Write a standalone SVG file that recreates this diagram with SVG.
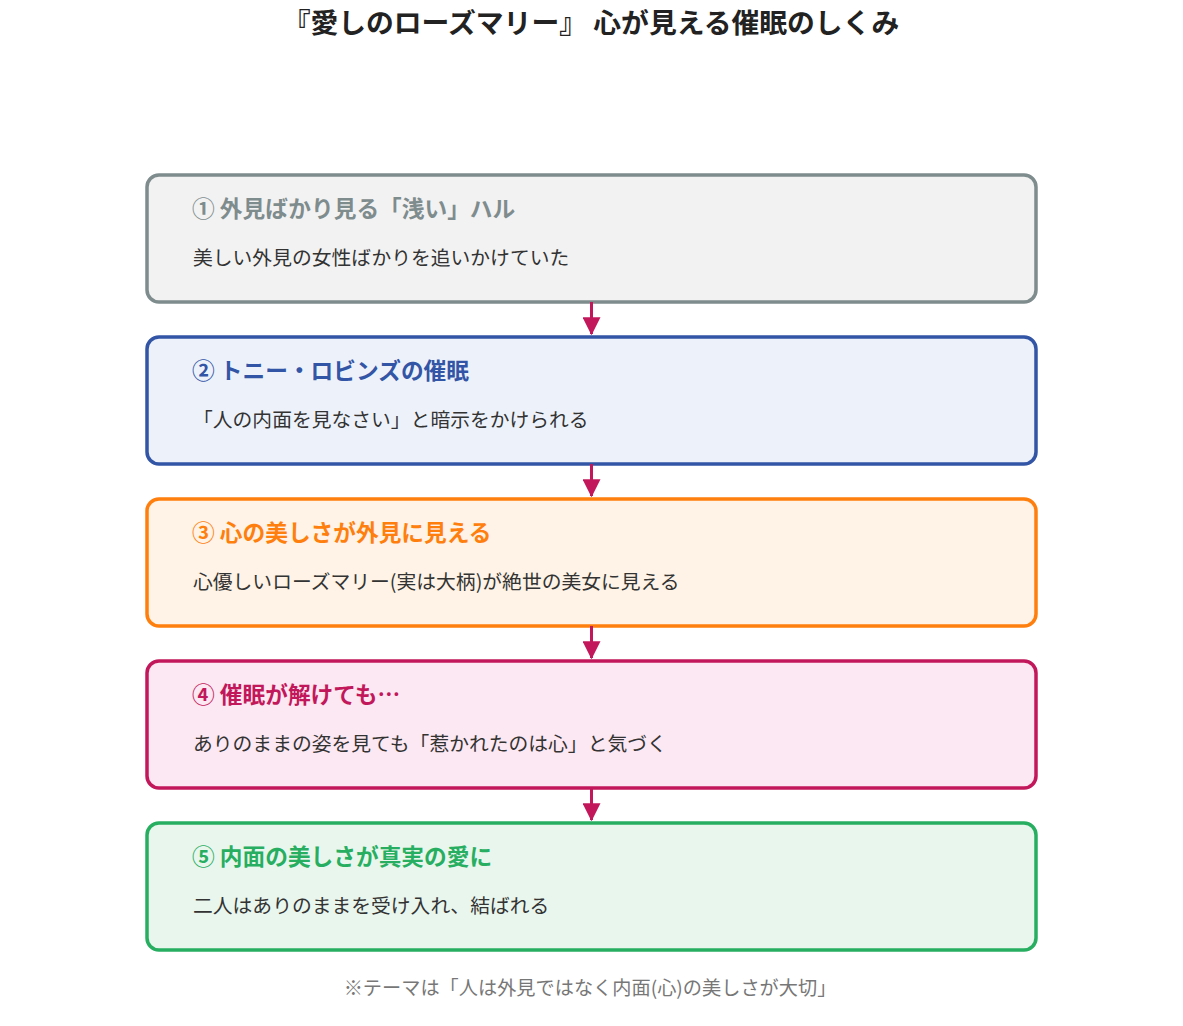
<svg xmlns="http://www.w3.org/2000/svg" width="1183" height="1026" viewBox="0 0 1183 1026">
<defs>
<marker id="ah" markerWidth="6" markerHeight="6" refX="5.6" refY="3" orient="auto" markerUnits="strokeWidth">
<path d="M0,0 L6,3 L0,6 Z" fill="#C2185B"/>
</marker>
<style>
text{font-family:"Noto Sans CJK JP","Noto Sans CJK SC",sans-serif}
.title{font-size:27.8px;font-weight:bold;fill:#222;text-anchor:middle}
.box{stroke-width:3.5}
.h{font-size:22.7px;font-weight:bold}
.b{font-size:19.8px;fill:#333}
.foot{font-size:19.2px;fill:#777;text-anchor:middle}
.conn{stroke:#C2185B;stroke-width:3;fill:none}
</style>
</defs>
<rect width="1183" height="1026" fill="#fff"/>
<text class="title" x="591" y="33">『愛しのローズマリー』 心が見える催眠のしくみ</text>
<g id="node1">
<rect class="box" x="147" y="175" width="889" height="127" rx="12" fill="#F2F2F2" stroke="#7F8C8D"/>
<text class="h" x="192" y="217" fill="#7F8C8D">① 外見ばかり見る「浅い」ハル</text>
<text class="b" x="193" y="265">美しい外見の女性ばかりを追いかけていた</text>
</g>
<g id="node2">
<rect class="box" x="147" y="337" width="889" height="127" rx="12" fill="#EDF2FA" stroke="#3355A6"/>
<text class="h" x="192" y="379" fill="#3355A6">② トニー・ロビンズの催眠</text>
<text class="b" x="193" y="427">「人の内面を見なさい」と暗示をかけられる</text>
</g>
<g id="node3">
<rect class="box" x="147" y="499" width="889" height="127" rx="12" fill="#FEF3E6" stroke="#FF7F0E"/>
<text class="h" x="192" y="541" fill="#FF7F0E">③ 心の美しさが外見に見える</text>
<text class="b" x="193" y="589">心優しいローズマリー(実は大柄)が絶世の美女に見える</text>
</g>
<g id="node4">
<rect class="box" x="147" y="661" width="889" height="127" rx="12" fill="#FCE8F2" stroke="#C2185B"/>
<text class="h" x="192" y="703" fill="#C2185B">④ 催眠が解けても…</text>
<text class="b" x="193" y="751">ありのままの姿を見ても「惹かれたのは心」と気づく</text>
</g>
<g id="node5">
<rect class="box" x="147" y="823" width="889" height="127" rx="12" fill="#E9F6EE" stroke="#27AE60"/>
<text class="h" x="192" y="865" fill="#27AE60">⑤ 内面の美しさが真実の愛に</text>
<text class="b" x="193" y="913">二人はありのままを受け入れ、結ばれる</text>
</g>
<g id="connectors">
<line class="conn" x1="591.5" y1="302" x2="591.5" y2="334" marker-end="url(#ah)"/>
<line class="conn" x1="591.5" y1="464" x2="591.5" y2="496" marker-end="url(#ah)"/>
<line class="conn" x1="591.5" y1="626" x2="591.5" y2="658" marker-end="url(#ah)"/>
<line class="conn" x1="591.5" y1="788" x2="591.5" y2="820" marker-end="url(#ah)"/>
</g>
<text class="foot" x="590" y="995">※テーマは「人は外見ではなく内面(心)の美しさが大切」</text>
</svg>
